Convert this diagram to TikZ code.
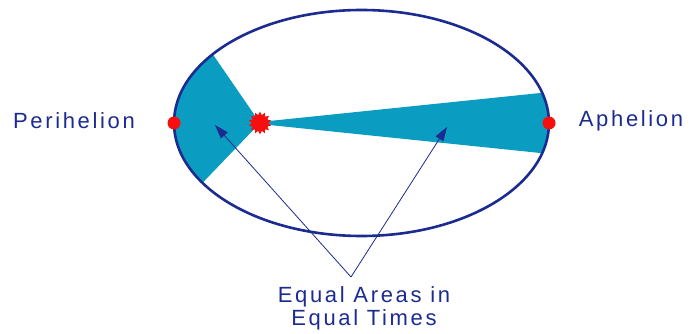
\documentclass[tikz,border=0pt]{standalone}
\usepackage{fontspec}
\setmainfont{Liberation Sans}
\newfontfamily\labelfont[LetterSpace=12]{Liberation Sans}
\usetikzlibrary{arrows.meta,calc,shapes.geometric}
\definecolor{OrbitInk}{HTML}{1B2B8F}
\definecolor{OrbitSweep}{HTML}{0B9DC1}
\definecolor{OrbitRed}{HTML}{F70F0F}
\tikzset{
  every node/.style={font=\labelfont\fontsize{22}{23}\selectfont, text=OrbitInk},
  orbit/.style={draw=OrbitInk, line width=2.6pt},
  sweep/.style={fill=OrbitSweep},
  apsis/.style={circle, fill=OrbitRed, inner sep=0pt, minimum size=13pt},
  sunstar/.style={star, star points=14, star point ratio=1.45, fill=OrbitRed, inner sep=0pt, minimum size=23pt},
  pointer/.style={-{Triangle[length=14pt,width=9pt]}, draw=OrbitInk, line width=0.8pt},
}
\begin{document}
\begin{tikzpicture}[x=1pt,y=1pt]
  \useasboundingbox (0,0) rectangle (691,334);
  % Orbit: centre (361.5,211), radii 187.5 and 113
  \coordinate (c) at (361.5,211);
  \coordinate (focus) at (260,211);
  % Swept areas
  \fill[sweep] (focus) -- ($(c)+(142.5:187.5 and 113)$)
    arc[start angle=142.5, end angle=212, x radius=187.5, y radius=113] -- cycle;
  \fill[sweep] (250,211) -- ($(c)+(-15.5:187.5 and 113)$)
    arc[start angle=-15.5, end angle=15.5, x radius=187.5, y radius=113] -- cycle;
  \draw[orbit] (c) ellipse [x radius=187.5, y radius=113];
  % Sun and apsides
  \fill[OrbitRed] (focus) circle (8.5);
  \node[sunstar] (sun) at (focus) {};
  \node[apsis] (peri) at (174,211) {};
  \node[apsis] (aph) at (549,211) {};
  \node (perilabel) at (74,213) {Perihelion};
  \node (aphlabel) at (631,213) {Aphelion};
  % Caption with pointers
  \node[align=center] (areas) at (364,26) {Equal Areas in\\Equal Times};
  \coordinate (meet) at (351,57);
  \coordinate (tipL) at (215,209);
  \coordinate (tipR) at (447,207);
  \draw[pointer] (meet) -- (tipL);
  \draw[pointer] (meet) -- (tipR);
\end{tikzpicture}
\end{document}
